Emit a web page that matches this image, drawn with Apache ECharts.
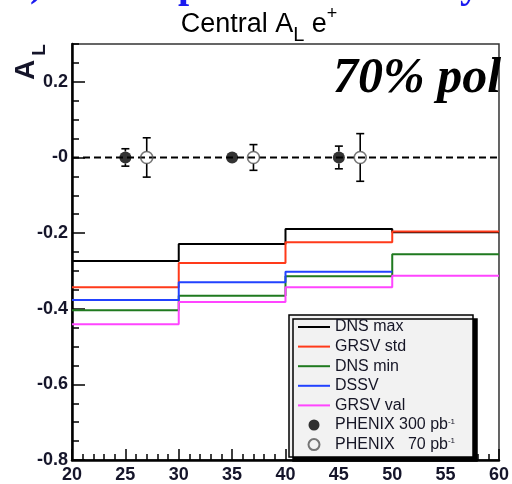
<!DOCTYPE html>
<html>
<head>
<meta charset="utf-8">
<script src="https://cdn.jsdelivr.net/npm/echarts@6/dist/echarts.min.js"></script>
<style>
html, body { margin: 0; padding: 0; background: #fff; }
#chart { width: 512px; height: 484px; }
</style>
</head>
<body>
<div id="chart"></div>
<script>
// Bin edges (x axis) and the step curves of each model prediction
const binEdges = [20, 30, 40, 50, 60];
const dnsMax  = [-0.274, -0.229, -0.189, -0.198];
const grsvStd = [-0.343, -0.279, -0.224, -0.196];
const dnsMin  = [-0.404, -0.366, -0.314, -0.256];
const dssv    = [-0.377, -0.330, -0.302];
const grsvVal = [-0.441, -0.382, -0.343, -0.313];

// Projected PHENIX points (value, statistical error)
const phenix300X   = [25, 35, 45];
const phenix300Y   = [0, 0, 0];
const phenix300Err = [0.023, 0.008, 0.030];
const phenix70X    = [27, 37, 47];
const phenix70Y    = [0, 0, 0];
const phenix70Err  = [0.052, 0.034, 0.063];

// Axis tick labels
const xTickValues = [20, 25, 30, 35, 40, 45, 50, 55, 60];
const xTickLabels = ['20', '25', '30', '35', '40', '45', '50', '55', '60'];
const yTickValues = [-0.8, -0.6, -0.4, -0.2, 0, 0.2];
const yTickLabels = ['-0.8', '-0.6', '-0.4', '-0.2', '-0', '0.2'];

const seriesNames = ['DNS max', 'GRSV std', 'DNS min', 'DSSV', 'GRSV val'];
const seriesValues = [dnsMax, grsvStd, dnsMin, dssv, grsvVal];
const seriesColors = ['#000000', '#ff3a1a', '#1f7a1f', '#2242ff', '#ff45ff'];
const name300 = 'PHENIX 300 pb-1';
const name70 = 'PHENIX   70 pb-1';

const MARKER = 12;
const SANS = '"Liberation Sans", Arial, sans-serif';

function stepData(vals) {
  const pts = [];
  for (let i = 0; i <= vals.length; i++) {
    pts.push([binEdges[i], vals[Math.min(i, vals.length - 1)]]);
  }
  return pts;
}

function labelFor(values, labels) {
  return function (v) {
    for (let i = 0; i < values.length; i++) {
      if (Math.abs(values[i] - v) < 1e-6) return labels[i];
    }
    return '';
  };
}

// Vertical error bar with end caps, leaving a gap where the marker sits
function errorBarRenderer(params, api) {
  const x = api.value(0), y = api.value(1), e = api.value(2);
  const c = api.coord([x, y]);
  const top = api.coord([x, y + e])[1];
  const bot = api.coord([x, y - e])[1];
  const r = MARKER / 2;
  const cap = 4;
  const style = { stroke: '#000', lineWidth: 1.6, fill: null };
  const children = [];
  if (c[1] - top > r) {
    children.push({ type: 'line', shape: { x1: c[0], y1: top, x2: c[0], y2: c[1] - r }, style });
    children.push({ type: 'line', shape: { x1: c[0] - cap, y1: top, x2: c[0] + cap, y2: top }, style });
  }
  if (bot - c[1] > r) {
    children.push({ type: 'line', shape: { x1: c[0], y1: c[1] + r, x2: c[0], y2: bot }, style });
    children.push({ type: 'line', shape: { x1: c[0] - cap, y1: bot, x2: c[0] + cap, y2: bot }, style });
  }
  return { type: 'group', children };
}

const zip3 = (a, b, c) => a.map((v, i) => [v, b[i], c[i]]);

const tickFont = { fontFamily: SANS, fontWeight: 'bold', fontSize: 18, color: '#15152a' };

const series = [];
series.push({
  type: 'line', name: 'zero', data: [[20, 0], [60, 0]], symbol: 'none', silent: true,
  lineStyle: { color: '#000', width: 2, type: [7, 4] }, z: 2
});
seriesNames.forEach((n, i) => {
  series.push({
    type: 'line', name: n, step: 'end', data: stepData(seriesValues[i]),
    symbol: 'none', showSymbol: false, lineStyle: { color: seriesColors[i], width: 2 },
    itemStyle: { color: seriesColors[i] }, z: 2
  });
});
series.push({
  type: 'custom', name: 'err300', renderItem: errorBarRenderer, silent: true,
  data: zip3(phenix300X, phenix300Y, phenix300Err), encode: { x: 0, y: 1 }, z: 3
});
series.push({
  type: 'custom', name: 'err70', renderItem: errorBarRenderer, silent: true,
  data: zip3(phenix70X, phenix70Y, phenix70Err), encode: { x: 0, y: 1 }, z: 3
});
series.push({
  type: 'scatter', name: name300, symbol: 'circle', symbolSize: MARKER,
  data: phenix300X.map((x, i) => [x, phenix300Y[i]]),
  itemStyle: { color: '#000' }, z: 4
});
series.push({
  type: 'scatter', name: name70, symbol: 'circle', symbolSize: MARKER,
  data: phenix70X.map((x, i) => [x, phenix70Y[i]]),
  itemStyle: { color: 'rgba(255,255,255,0)', borderColor: '#555', borderWidth: 1.6 }, z: 4
});

// Legend entries: thin bar icon for the curves, circles for the data sets
const lineIcon = 'path://M0,0H32V2H0Z';
const legendData = seriesNames.map(n => ({ name: n, icon: lineIcon }))
  .concat([{ name: name300, icon: 'circle' }, { name: name70, icon: 'circle' }]);

const chart = echarts.init(document.getElementById('chart'), null, { renderer: 'canvas' });
chart.setOption({
  animation: false,
  backgroundColor: '#fff',
  grid: { left: 72, right: 7, top: 44, bottom: 24, show: true, borderColor: '#333', borderWidth: 1.5, backgroundColor: 'transparent' },
  xAxis: [
    {
      type: 'value', min: 20, max: 60, interval: 5,
      axisLine: { show: true, onZero: false, lineStyle: { color: '#000', width: 2.5 } },
      axisTick: { show: true, inside: true, length: 11, lineStyle: { color: '#000', width: 1.5 } },
      axisLabel: Object.assign({ margin: 6, formatter: labelFor(xTickValues, xTickLabels) }, tickFont),
      splitLine: { show: false }
    },
    {
      type: 'value', min: 20, max: 60, interval: 1, position: 'bottom',
      axisLine: { show: false, onZero: false },
      axisTick: { show: true, inside: true, length: 6, lineStyle: { color: '#000', width: 1.5 } },
      axisLabel: { show: false }, splitLine: { show: false }
    }
  ],
  yAxis: [
    {
      type: 'value', min: -0.8, max: 0.3, interval: 0.2,
      axisLine: { show: true, onZero: false, lineStyle: { color: '#000', width: 2.5 } },
      axisTick: { show: true, inside: true, length: 13, lineStyle: { color: '#000', width: 1.5 } },
      axisLabel: Object.assign({ margin: 4, showMaxLabel: false, formatter: labelFor(yTickValues, yTickLabels) }, tickFont),
      splitLine: { show: false }
    },
    {
      type: 'value', min: -0.8, max: 0.3, interval: 0.05, position: 'left',
      axisLine: { show: false, onZero: false },
      axisTick: { show: true, inside: true, length: 7, lineStyle: { color: '#000', width: 1.5 } },
      axisLabel: { show: false }, splitLine: { show: false }
    }
  ],
  legend: {
    orient: 'vertical', left: 298, top: 319, padding: 0, itemGap: 3.6,
    itemWidth: 32, itemHeight: 11, selectedMode: false, z: 6, symbolKeepAspect: true,
    textStyle: {
      fontFamily: SANS, fontSize: 16, lineHeight: 15, color: '#151525',
      rich: { sup: { fontSize: 8, verticalAlign: 'top', lineHeight: 8, color: '#151525' } }
    },
    formatter: n => n.replace('pb-1', 'pb{sup|-1}'),
    data: legendData
  },
  graphic: [
    {
      type: 'rect', z: 5, silent: true,
      shape: { x: 289, y: 315, width: 184, height: 142 },
      style: { fill: '#f2f2f2', stroke: '#000', lineWidth: 1.5, shadowColor: '#000', shadowOffsetX: 4, shadowOffsetY: 4, shadowBlur: 0 }
    },
    {
      type: 'text', z: 10, silent: true, x: 259, y: 25,
      style: {
        text: '{m|Central A}{s|L}{m| e}{p|+}', align: 'center', verticalAlign: 'middle',
        rich: {
          m: { fontFamily: SANS, fontSize: 27, lineHeight: 40, color: '#15152a' },
          s: { fontFamily: SANS, fontSize: 20, lineHeight: 20, verticalAlign: 'bottom', color: '#15152a' },
          p: { fontFamily: SANS, fontSize: 18, lineHeight: 18, verticalAlign: 'top', color: '#15152a' }
        }
      }
    },
    {
      type: 'text', z: 10, silent: true, x: 26, y: 70, rotation: Math.PI / 2,
      style: { text: 'A', align: 'center', verticalAlign: 'middle', font: 'bold 28px ' + SANS, fill: '#15152a' }
    },
    {
      type: 'text', z: 10, silent: true, x: 40, y: 50, rotation: Math.PI / 2,
      style: { text: 'L', align: 'center', verticalAlign: 'middle', font: 'bold 19px ' + SANS, fill: '#15152a' }
    },
    {
      type: 'text', z: 10, silent: true, x: 333, y: 79,
      style: { text: '70% pol', align: 'left', verticalAlign: 'middle', font: 'italic bold 50px "Liberation Serif", "Times New Roman", serif', fill: '#000' }
    },
    {
      type: 'group', z: 10, silent: true,
      children: [
        { type: 'text', x: 30, y: 6, style: { text: ')', verticalAlign: 'bottom', font: 'bold 40px "Liberation Serif", serif', fill: '#1b1bf0' } },
        { type: 'text', x: 178, y: 7, style: { text: 'p', verticalAlign: 'bottom', font: 'bold 40px "Liberation Serif", serif', fill: '#1b1bf0' } },
        { type: 'text', x: 460, y: 7, style: { text: 'y', verticalAlign: 'bottom', font: 'bold 40px "Liberation Serif", serif', fill: '#1b1bf0' } }
      ]
    }
  ],
  series: series
});
</script>
</body>
</html>
